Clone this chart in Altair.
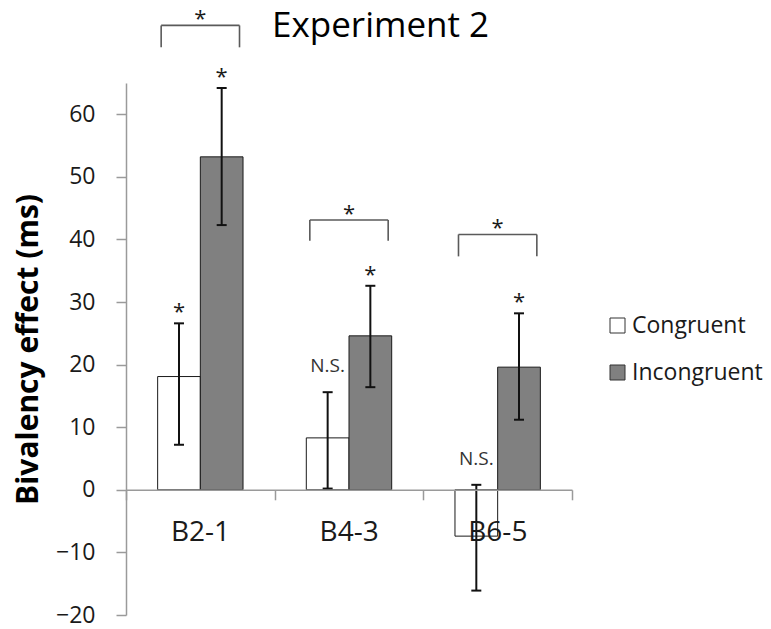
import altair as alt
import pandas as pd

# ---- data ----
categories = ["B2-1", "B4-3", "B6-5"]
series = ["Congruent", "Incongruent"]
congruent = [18.1, 8.3, -7.4]
congruent_lo = [7.2, 0.2, -16.1]
congruent_hi = [26.6, 15.6, 0.8]
incongruent = [53.2, 24.6, 19.6]
incongruent_lo = [42.3, 16.4, 11.2]
incongruent_hi = [64.2, 32.6, 28.2]
congruent_sig = ["*", "N.S.", "N.S."]
incongruent_sig = ["*", "*", "*"]
bracket_top = [74.2, 43.1, 40.8]
bracket_leg = [70.7, 39.8, 37.3]
bracket_sig = ["*", "*", "*"]
y_ticks = [-20, -10, 0, 10, 20, 30, 40, 50, 60]

# ---- layout constants ----
W, H = 446, 532
BAR = 42.5 / 148.0      # bar width in category units
BR = 39.0 / 148.0       # bracket half width in category units
FONT = "Open Sans"

rows = []
for i, c in enumerate(categories):
    ctr = i + 0.5
    rows.append(dict(cat=c, series="Congruent", val=congruent[i], lo=congruent_lo[i],
                     hi=congruent_hi[i], sig=congruent_sig[i],
                     x0=ctr - BAR, x1=ctr, xc=ctr - BAR / 2, zero=0))
    rows.append(dict(cat=c, series="Incongruent", val=incongruent[i], lo=incongruent_lo[i],
                     hi=incongruent_hi[i], sig=incongruent_sig[i],
                     x0=ctr, x1=ctr + BAR, xc=ctr + BAR / 2, zero=0))
df = pd.DataFrame(rows)

br = pd.DataFrame(dict(cat=categories, top=bracket_top, leg=bracket_leg, sig=bracket_sig,
                       xl=[i + 0.5 - BR for i in range(3)],
                       xm=[i + 0.5 for i in range(3)],
                       xr=[i + 0.5 + BR for i in range(3)]))

xscale = alt.Scale(domain=[0, 3], nice=False, zero=False)
yscale = alt.Scale(domain=[-20, 65], nice=False, zero=False)

label_expr = "[" + ",".join(f"'{c}'" for c in categories) + ",''][datum.value]"

x_axis = alt.Axis(values=[0, 1, 2, 3], labelExpr=label_expr, labelOffset=74, labelFlush=False,
                  labelOverlap=False, title=None, grid=False, offset=-125.2, tickSize=10,
                  labelPadding=19, labelFontSize=28, labelColor="#1a1a1a", domainColor="#9a9a9a",
                  tickColor="#9a9a9a", domainWidth=1.5, tickWidth=1.5, zindex=1)
y_axis = alt.Axis(values=y_ticks, title="Bivalency effect (ms)", grid=False, tickSize=10,
                  labelPadding=21, labelFontSize=23, labelColor="#1a1a1a",
                  domainColor="#9a9a9a", tickColor="#9a9a9a", domainWidth=1.5, tickWidth=1.5,
                  titleFontSize=30, titleFontWeight="bold", titleColor="#000",
                  titleX=-98, titleY=H / 2, titleAngle=-90, titleAlign="center",
                  titleBaseline="middle")

bars = alt.Chart(df).mark_bar(stroke="#1a1a1a", strokeWidth=1).encode(
    x=alt.X("x0:Q", scale=xscale, axis=x_axis),
    x2="x1:Q",
    y=alt.Y("val:Q", scale=yscale, axis=y_axis),
    y2="zero:Q",
    fill=alt.Fill("series:N", scale=alt.Scale(domain=series, range=["#ffffff", "#808080"]),
                  legend=alt.Legend(title=None, orient="none", legendX=480, legendY=231,
                                    symbolType="square", symbolSize=225,
                                    symbolStrokeColor="#333", symbolStrokeWidth=1,
                                    labelFontSize=23, labelColor="#1a1a1a", labelOffset=3,
                                    rowPadding=23, labelFont=FONT)),
)

err = alt.Chart(df).mark_rule(color="#111", strokeWidth=2).encode(
    x="xc:Q", y="lo:Q", y2="hi:Q")
cap_hi = alt.Chart(df).mark_rule(color="#111", strokeWidth=2, xOffset=-5, x2Offset=5).encode(
    x="xc:Q", x2="xc:Q", y="hi:Q")
cap_lo = alt.Chart(df).mark_rule(color="#111", strokeWidth=2, xOffset=-5, x2Offset=5).encode(
    x="xc:Q", x2="xc:Q", y="lo:Q")

stars = alt.Chart(df).transform_filter("datum.sig == '*'").mark_text(
    fontSize=22, baseline="alphabetic", dy=-4, color="#1a1a1a", font=FONT).encode(
    x="xc:Q", y="hi:Q", text="sig:N")
ns = alt.Chart(df).transform_filter("datum.sig != '*'").mark_text(
    fontSize=19, baseline="alphabetic", dy=-20, color="#333", font=FONT).encode(
    x="xc:Q", y="hi:Q", text="sig:N")

b_top = alt.Chart(br).mark_rule(color="#5a5a5a", strokeWidth=1.6).encode(
    x="xl:Q", x2="xr:Q", y="top:Q")
b_left = alt.Chart(br).mark_rule(color="#5a5a5a", strokeWidth=1.6).encode(
    x="xl:Q", y="leg:Q", y2="top:Q")
b_right = alt.Chart(br).mark_rule(color="#5a5a5a", strokeWidth=1.6).encode(
    x="xr:Q", y="leg:Q", y2="top:Q")
b_star = alt.Chart(br).mark_text(fontSize=22, baseline="alphabetic", dy=1, color="#1a1a1a",
                                 font=FONT).encode(x="xm:Q", y="top:Q", text="sig:N")

chart = alt.layer(bars, err, cap_hi, cap_lo, stars, ns, b_top, b_left, b_right, b_star).properties(
    width=W, height=H,
    title=alt.TitleParams("Experiment 2", fontSize=35, fontWeight="normal", anchor="start",
                          frame="group", dx=146, offset=-64, baseline="alphabetic",
                          color="#000", font=FONT),
    padding={"left": 126, "top": 83, "right": 199, "bottom": 14},
    autosize=alt.AutoSizeParams(type="none"),
).configure(font=FONT).configure_view(stroke=None).configure_axis(
    labelFont=FONT, titleFont=FONT)

chart.save("out.html", embed_options={"renderer": "svg", "actions": False})
